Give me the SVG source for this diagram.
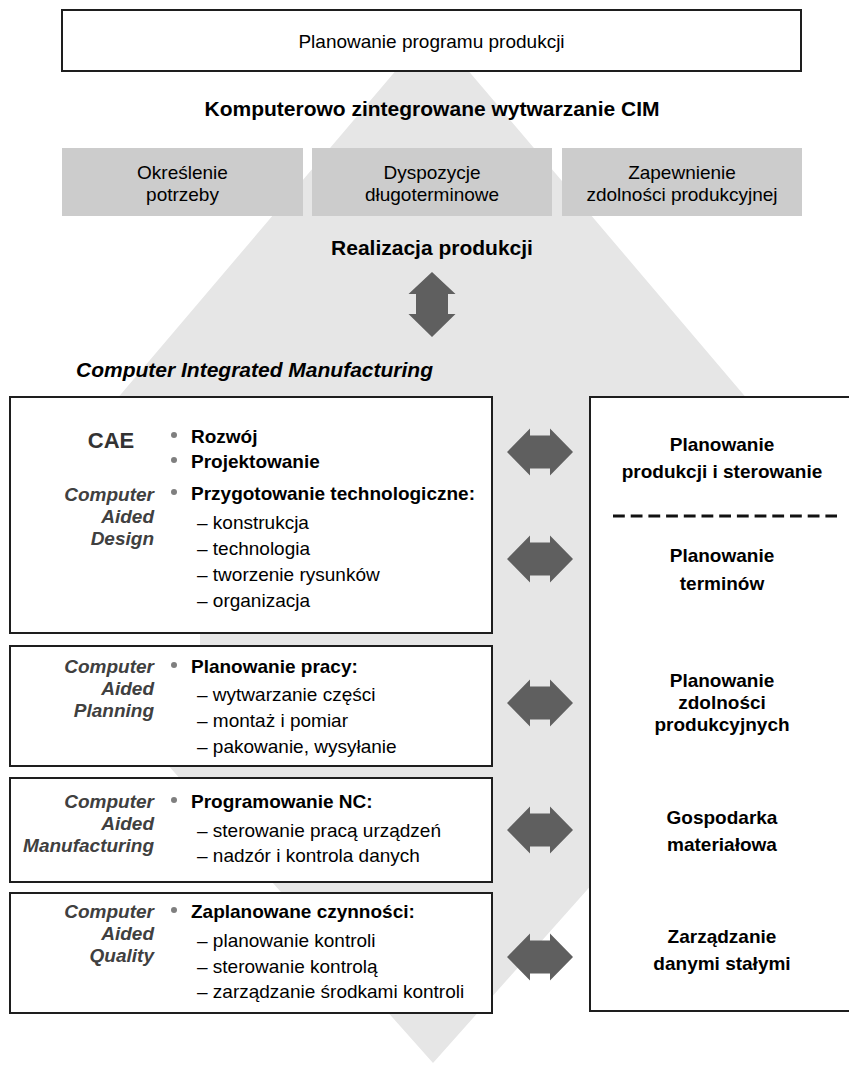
<svg xmlns="http://www.w3.org/2000/svg" xmlns:xlink="http://www.w3.org/1999/xlink" width="849" height="1065" viewBox="0 0 849 1065">
<style>
text { font-family: "Liberation Sans", Arial, sans-serif; font-size: 19px; fill: #000; }
.b { font-weight: bold; }
.c { text-anchor: middle; }
.lab { font-weight: bold; font-style: italic; fill: #404040; text-anchor: end; }
.box { fill: #fff; stroke: #1e1e1e; stroke-width: 2; }
.gbox { fill: #cccccc; }
.bul { fill: #7f7f7f; }
.arr { fill: #5f5f5f; }
.bg { fill: #e6e6e6; }
</style>
<defs>
<path id="harrow" class="arr" d="M-33,0 L-10,-23.5 L-10,-16.5 L10,-16.5 L10,-23.5 L33,0 L10,23.5 L10,16.5 L-10,16.5 L-10,23.5 Z"/>
</defs>
<rect width="849" height="1065" fill="#fff"/>
<g id="background">
<path class="bg" d="M432,28 L765,420 L664,420 L664,700 L756,700 L433,1063 L110,700 L200,700 L200,420 L99,420 Z"/>
</g>
<g id="top-box">
<rect class="box" x="62" y="10" width="739" height="61" stroke-width="1.5"/>
<text class="c" x="431.5" y="48">Planowanie programu produkcji</text>
</g>
<g id="cim-title">
<text class="b c" x="432" y="116" style="font-size:21px">Komputerowo zintegrowane wytwarzanie CIM</text>
</g>
<g id="okreslenie">
<rect class="gbox" x="62" y="148" width="241" height="68"/>
<text class="c" x="182.5" y="179">Określenie</text>
<text class="c" x="182.5" y="201">potrzeby</text>
</g>
<g id="dyspozycje">
<rect class="gbox" x="312" y="148" width="240" height="68"/>
<text class="c" x="432" y="179">Dyspozycje</text>
<text class="c" x="432" y="201">długoterminowe</text>
</g>
<g id="zapewnienie">
<rect class="gbox" x="562" y="148" width="240" height="68"/>
<text class="c" x="682" y="179">Zapewnienie</text>
<text class="c" x="682" y="201">zdolności produkcyjnej</text>
</g>
<g id="realizacja">
<text class="b c" x="432" y="255" style="font-size:21px">Realizacja produkcji</text>
</g>
<g id="cim-label">
<text class="b" x="76" y="377" style="font-size:21px;font-style:italic">Computer Integrated Manufacturing</text>
</g>
<g id="cad">
<rect class="box" x="10" y="397" width="482" height="236"/>
<text class="b c" x="111" y="448" style="font-size:22px;fill:#333">CAE</text>
<text class="lab" x="154" y="501">Computer</text>
<text class="lab" x="154" y="523">Aided</text>
<text class="lab" x="154" y="545">Design</text>
<circle class="bul" cx="174" cy="435" r="3"/>
<circle class="bul" cx="174" cy="460" r="3"/>
<circle class="bul" cx="174" cy="492" r="3"/>
<text class="b" x="191" y="443">Rozwój</text>
<text class="b" x="191" y="468">Projektowanie</text>
<text class="b" x="191" y="500">Przygotowanie technologiczne:</text>
<text x="197" y="529">– konstrukcja</text>
<text x="197" y="555">– technologia</text>
<text x="197" y="581">– tworzenie rysunków</text>
<text x="197" y="607">– organizacja</text>
</g>
<g id="cap">
<rect class="box" x="10" y="646" width="482" height="120"/>
<text class="lab" x="154" y="673">Computer</text>
<text class="lab" x="154" y="695">Aided</text>
<text class="lab" x="154" y="717">Planning</text>
<circle class="bul" cx="174" cy="665" r="3"/>
<text class="b" x="191" y="673">Planowanie pracy:</text>
<text x="197" y="701">– wytwarzanie części</text>
<text x="197" y="727">– montaż i pomiar</text>
<text x="197" y="753">– pakowanie, wysyłanie</text>
</g>
<g id="cam">
<rect class="box" x="10" y="778" width="482" height="104"/>
<text class="lab" x="154" y="808">Computer</text>
<text class="lab" x="154" y="830">Aided</text>
<text class="lab" x="154" y="852">Manufacturing</text>
<circle class="bul" cx="174" cy="800" r="3"/>
<text class="b" x="191" y="808">Programowanie NC:</text>
<text x="197" y="837">– sterowanie pracą urządzeń</text>
<text x="197" y="862">– nadzór i kontrola danych</text>
</g>
<g id="caq">
<rect class="box" x="10" y="893" width="482" height="120"/>
<text class="lab" x="154" y="918">Computer</text>
<text class="lab" x="154" y="940">Aided</text>
<text class="lab" x="154" y="962">Quality</text>
<circle class="bul" cx="174" cy="910" r="3"/>
<text class="b" x="191" y="918">Zaplanowane czynności:</text>
<text x="197" y="947">– planowanie kontroli</text>
<text x="197" y="973">– sterowanie kontrolą</text>
<text x="197" y="998">– zarządzanie środkami kontroli</text>
</g>
<g id="pps">
<rect class="box" x="590" y="397" width="280" height="614"/>
<text class="b c" x="722" y="451">Planowanie</text>
<text class="b c" x="722" y="478">produkcji i sterowanie</text>
<line x1="613" y1="516" x2="837" y2="516" stroke="#111" stroke-width="3" stroke-dasharray="11.8 5.9"/>
<text class="b c" x="722" y="562">Planowanie</text>
<text class="b c" x="722" y="590">terminów</text>
<text class="b c" x="722" y="687">Planowanie</text>
<text class="b c" x="722" y="709">zdolności</text>
<text class="b c" x="722" y="731">produkcyjnych</text>
<text class="b c" x="722" y="824">Gospodarka</text>
<text class="b c" x="722" y="851">materiałowa</text>
<text class="b c" x="722" y="943">Zarządzanie</text>
<text class="b c" x="722" y="970">danymi stałymi</text>
</g>
<g id="connectors">
<path class="arr" d="M432,272 L455.5,294 L448,294 L448,314 L455.5,314 L432,337 L408.5,314 L416,314 L416,294 L408.5,294 Z"/>
<use xlink:href="#harrow" x="540" y="452"/>
<use xlink:href="#harrow" x="540" y="559"/>
<use xlink:href="#harrow" x="540" y="703"/>
<use xlink:href="#harrow" x="540" y="830"/>
<use xlink:href="#harrow" x="540" y="957"/>
</g>
</svg>
